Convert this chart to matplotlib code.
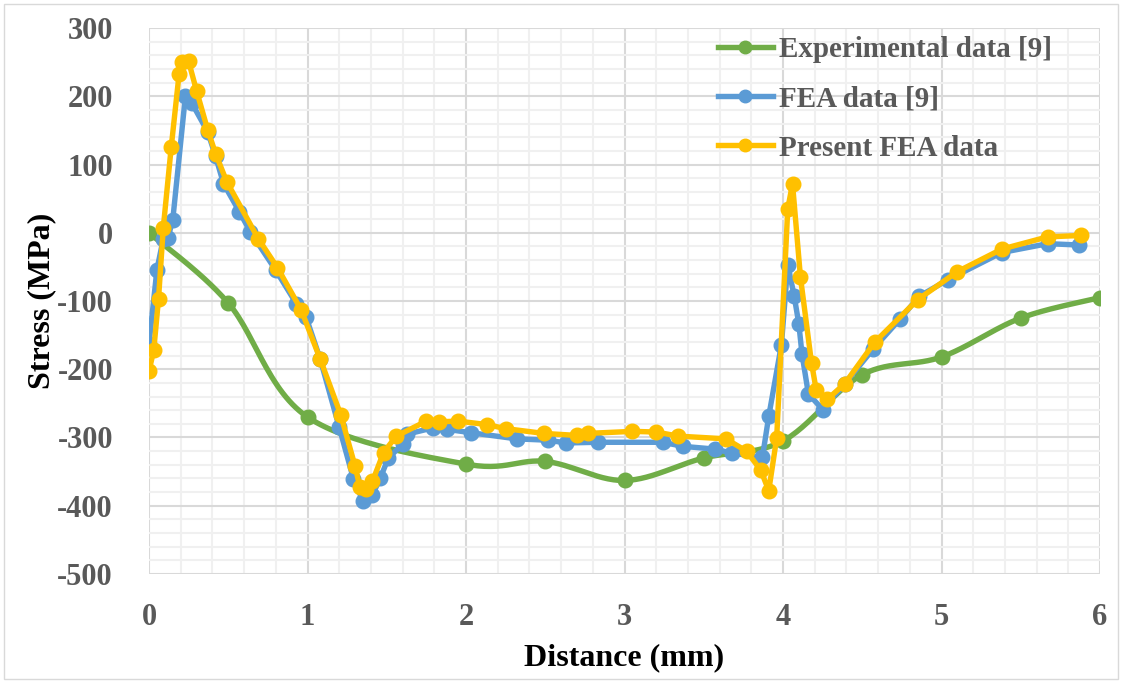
import numpy as np
import matplotlib.pyplot as plt
from matplotlib.ticker import MultipleLocator

# Experimental data [9]
exp_x = [0, 0.5, 1, 2, 2.5, 3, 3.5, 4, 4.5, 5, 5.5, 6]
exp_y = [0, -103, -270, -339, -335, -363, -330, -305, -208, -182, -125, -95]

# FEA data [9]
fea_x = [0, 0.05, 0.09, 0.12, 0.15, 0.23, 0.27, 0.37, 0.42, 0.47, 0.57, 0.64,
         0.80, 0.93, 0.99, 1.08, 1.20, 1.29, 1.35, 1.41, 1.46, 1.51, 1.60, 1.63,
         1.79, 1.88, 2.03, 2.32, 2.52, 2.63, 2.83, 3.24, 3.37, 3.57, 3.68, 3.87,
         3.91, 3.99, 4.03, 4.07, 4.10, 4.12, 4.16, 4.25, 4.39, 4.57, 4.74, 4.86,
         5.04, 5.38, 5.67, 5.87]
fea_y = [-163, -54, -9, -7, 19, 201, 190, 148, 112, 72, 31, 1,
         -55, -104, -123, -185, -285, -361, -393, -384, -359, -330, -310, -295,
         -286, -288, -293, -302, -304, -308, -307, -307, -313, -317, -323, -329,
         -269, -164, -47, -92, -134, -178, -236, -259, -221, -170, -126, -93,
         -69, -29, -16, -18]

# Present FEA data
pres_x = [0, 0.03, 0.06, 0.09, 0.14, 0.19, 0.21, 0.25, 0.30, 0.37, 0.42, 0.49,
          0.69, 0.81, 0.96, 1.08, 1.21, 1.30, 1.33, 1.37, 1.41, 1.48, 1.56, 1.75,
          1.83, 1.95, 2.13, 2.25, 2.49, 2.70, 2.77, 3.05, 3.20, 3.34, 3.64, 3.77,
          3.86, 3.91, 3.96, 4.03, 4.06, 4.11, 4.18, 4.21, 4.28, 4.39, 4.58, 4.85,
          5.10, 5.38, 5.67, 5.88]
pres_y = [-203, -172, -97, 7, 125, 233, 250, 251, 208, 151, 116, 75,
          -9, -51, -113, -185, -267, -342, -372, -376, -364, -322, -298, -276,
          -277, -276, -281, -287, -294, -297, -294, -291, -292, -298, -302, -320,
          -348, -378, -301, 35, 72, -65, -191, -231, -244, -221, -160, -98,
          -57, -24, -6, -4]


def smooth(x, y, n=30):
    # Catmull-Rom style curve through the points
    x = np.asarray(x, float)
    y = np.asarray(y, float)
    px = np.concatenate([[x[0]], x, [x[-1]]])
    py = np.concatenate([[y[0]], y, [y[-1]]])
    t = np.linspace(0, 1, n)
    xs, ys = [], []
    for i in range(1, len(px) - 2):
        b0x, b0y = px[i], py[i]
        b3x, b3y = px[i + 1], py[i + 1]
        b1x = b0x + (px[i + 1] - px[i - 1]) / 6
        b1y = b0y + (py[i + 1] - py[i - 1]) / 6
        b2x = b3x - (px[i + 2] - px[i]) / 6
        b2y = b3y - (py[i + 2] - py[i]) / 6
        xs.append((1 - t) ** 3 * b0x + 3 * (1 - t) ** 2 * t * b1x + 3 * (1 - t) * t ** 2 * b2x + t ** 3 * b3x)
        ys.append((1 - t) ** 3 * b0y + 3 * (1 - t) ** 2 * t * b1y + 3 * (1 - t) * t ** 2 * b2y + t ** 3 * b3y)
    return np.concatenate(xs), np.concatenate(ys)


plt.rcParams['font.family'] = 'Liberation Serif'
plt.rcParams['font.weight'] = 'bold'
plt.rcParams['axes.unicode_minus'] = False

green = '#70AD47'
blue = '#5B9BD5'
yellow = '#FFC000'
lw = 3.9
ms = 10.5

fig = plt.figure(figsize=(11.22, 6.83), dpi=100)
ax = fig.add_axes([0.1328, 0.1596, 0.8476, 0.7994])

gx, gy = smooth(exp_x, exp_y)
ax.plot(gx, gy, color=green, lw=lw, zorder=3)
ax.plot(exp_x, exp_y, 'o', color=green, ms=ms, zorder=3)
ax.plot(fea_x, fea_y, '-o', color=blue, lw=lw, ms=ms, zorder=4)
ax.plot(pres_x, pres_y, '-o', color=yellow, lw=lw, ms=ms, zorder=5)

# legend handles
ax.plot([], [], '-o', color=green, lw=lw, ms=9, label='Experimental data [9]')
ax.plot([], [], '-o', color=blue, lw=lw, ms=9, label='FEA data [9]')
ax.plot([], [], '-o', color=yellow, lw=lw, ms=9, label='Present FEA data')
h, l = ax.get_legend_handles_labels()
leg = ax.legend(h, l, loc='upper left', bbox_to_anchor=(0.598, 0.985), frameon=False,
                fontsize=21, handlelength=1.9, handletextpad=0.2, labelspacing=0.76,
                borderpad=0, borderaxespad=0)
for t in leg.get_texts():
    t.set_color('#595959')

ax.set_xlim(0, 6)
ax.set_ylim(-500, 300)
ax.xaxis.set_major_locator(MultipleLocator(1))
ax.xaxis.set_minor_locator(MultipleLocator(0.2))
ax.yaxis.set_major_locator(MultipleLocator(100))
ax.yaxis.set_minor_locator(MultipleLocator(20))
ax.grid(which='minor', color='#F0F0F0', lw=1.5, zorder=0)
ax.grid(which='major', color='#D9D9D9', lw=1.5, zorder=1)
ax.set_axisbelow(True)
for s in ax.spines.values():
    s.set_visible(False)
ax.tick_params(which='both', length=0, labelsize=22, colors='#595959')
ax.tick_params(axis='y', pad=26)
ax.tick_params(axis='x', pad=21)
for lab in ax.get_xticklabels() + ax.get_yticklabels():
    lab.set_fontweight('bold')

ax.set_xlabel('Distance (mm)', fontsize=23, fontweight='bold', labelpad=8)
ax.set_ylabel('Stress (MPa)', fontsize=23, fontweight='bold', labelpad=1)

fig.patches.append(plt.Rectangle((0.004, 0.006), 0.992, 0.988, transform=fig.transFigure,
                                 fill=False, edgecolor='#D9D9D9', lw=1))

fig.savefig('out.png', dpi=100)
